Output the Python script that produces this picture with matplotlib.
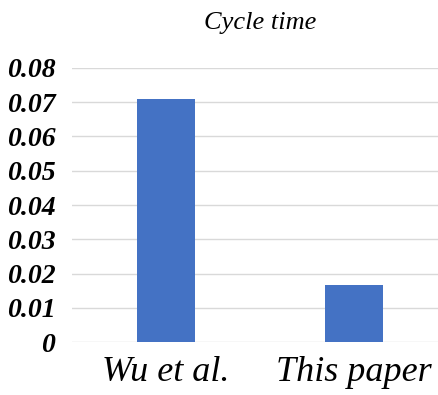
import matplotlib
matplotlib.use("Agg")
import matplotlib.pyplot as plt

plt.rcParams["font.family"] = "serif"
plt.rcParams["font.serif"] = ["Liberation Serif", "DejaVu Serif"]

categories = ["Wu et al.", "This paper"]
values = [0.0708, 0.0167]
yticks = [0, 0.01, 0.02, 0.03, 0.04, 0.05, 0.06, 0.07, 0.08]
ytick_labels = ["0", "0.01", "0.02", "0.03", "0.04", "0.05", "0.06", "0.07", "0.08"]

fig = plt.figure(figsize=(4.39, 3.95), dpi=100)
ax = fig.add_axes([0.164, 0.134, 0.857, 0.694])
x = range(len(categories))
ax.bar(x, values, width=0.31, color="#4472C4", zorder=3)
ax.set_xlim(-0.5, 1.5)
ax.set_ylim(0, 0.08)
ax.set_yticks(yticks)
ax.set_yticklabels(ytick_labels, fontstyle="italic", fontweight="bold", fontsize=20)
ax.set_xticks(list(x))
ax.set_xticklabels(categories, fontstyle="italic", fontsize=26)
ax.tick_params(axis="both", length=0)
ax.tick_params(axis="y", pad=12)
ax.tick_params(axis="x", pad=10)
ax.grid(axis="y", color="#d9d9d9", linewidth=1, zorder=0)
for s in ax.spines.values():
    s.set_visible(False)
ax.set_title("Cycle time", fontstyle="italic", fontsize=19, pad=28)
fig.savefig("out.png", dpi=100)
